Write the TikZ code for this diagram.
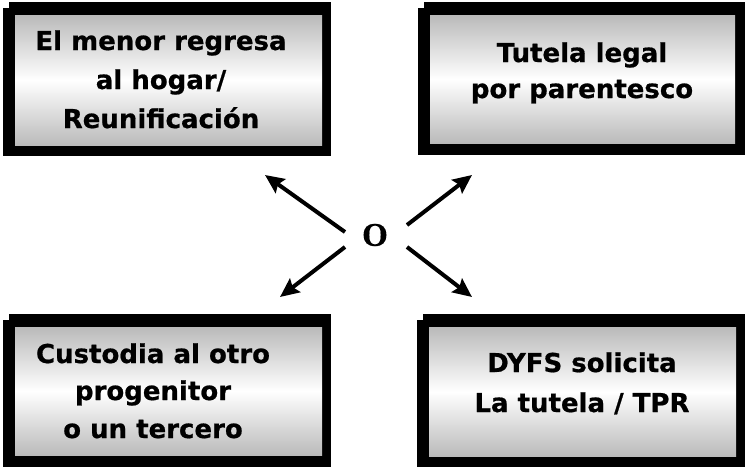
\documentclass[tikz,border=0pt]{standalone}
\usepackage{fontspec}
\setmainfont{DejaVu Sans}
\newfontfamily\heavy[BoldFeatures={FakeBold=0.7}]{DejaVu Sans}
\newfontfamily\serifO[BoldFeatures={FakeBold=0.5}]{Liberation Serif}
\usetikzlibrary{arrows.meta}
\begin{document}
\begin{tikzpicture}[x=1pt,y=-1pt,
  boxtxt/.style={font=\heavy\bfseries\fontsize{26}{39}\selectfont, anchor=base, inner sep=0pt},
  shadebox/.style={top color=black!27, bottom color=black!27, middle color=white, draw=none, inner sep=0pt, anchor=north west},
  framefill/.style={fill=black},
  arr/.style={line width=4pt, -{Stealth[length=19pt,width=17pt,inset=3pt]}},
  otxt/.style={font=\serifO\bfseries\fontsize{33}{35}\selectfont, inner sep=0pt}]
\useasboundingbox (0,0) rectangle (745,469);
% frames
\fill[framefill] (3,8) rectangle (331,156);
\fill[framefill] (9,2) rectangle (331,156);
\fill[framefill] (418,8) rectangle (745,155);
\fill[framefill] (424,2) rectangle (745,155);
\fill[framefill] (3,320) rectangle (331,467);
\fill[framefill] (9,314) rectangle (331,467);
\fill[framefill] (417,320) rectangle (745,467);
\fill[framefill] (423,314) rectangle (745,467);
% shaded faces
\node[shadebox, minimum width=307pt, minimum height=130pt] (b1) at (15,15) {};
\node[shadebox, minimum width=305pt, minimum height=128pt] (b2) at (430,15) {};
\node[shadebox, minimum width=307pt, minimum height=128pt] (b3) at (15,327) {};
\node[shadebox, minimum width=307pt, minimum height=129pt] (b4) at (429,327) {};
% texts
\node[boxtxt] (t1a) at (161,50) {El menor regresa};
\node[boxtxt] (t1b) at (161,89) {al hogar/};
\node[boxtxt] (t1c) at (161,128) {Reunificación};
\node[boxtxt] (t2a) at (582,62) {Tutela legal};
\node[boxtxt] (t2b) at (582,98) {por parentesco};
\node[boxtxt] (t3a) at (153,363) {Custodia al otro};
\node[boxtxt] (t3b) at (153,400) {progenitor};
\node[boxtxt] (t3c) at (153,438) {o un tercero};
\node[boxtxt] (t4a) at (582,372) {DYFS solicita};
\node[boxtxt] (t4b) at (582,412) {La tutela / TPR};
% center
\node[otxt] (o) at (375,235) {O};
\coordinate (s1) at (345,232); \coordinate (e1) at (265,175);
\coordinate (s2) at (407,225); \coordinate (e2) at (472,175);
\coordinate (s3) at (345,247); \coordinate (e3) at (280,297);
\coordinate (s4) at (407,247); \coordinate (e4) at (472,297);
\draw[arr] (s1) -- (e1);
\draw[arr] (s2) -- (e2);
\draw[arr] (s3) -- (e3);
\draw[arr] (s4) -- (e4);
\end{tikzpicture}
\end{document}
